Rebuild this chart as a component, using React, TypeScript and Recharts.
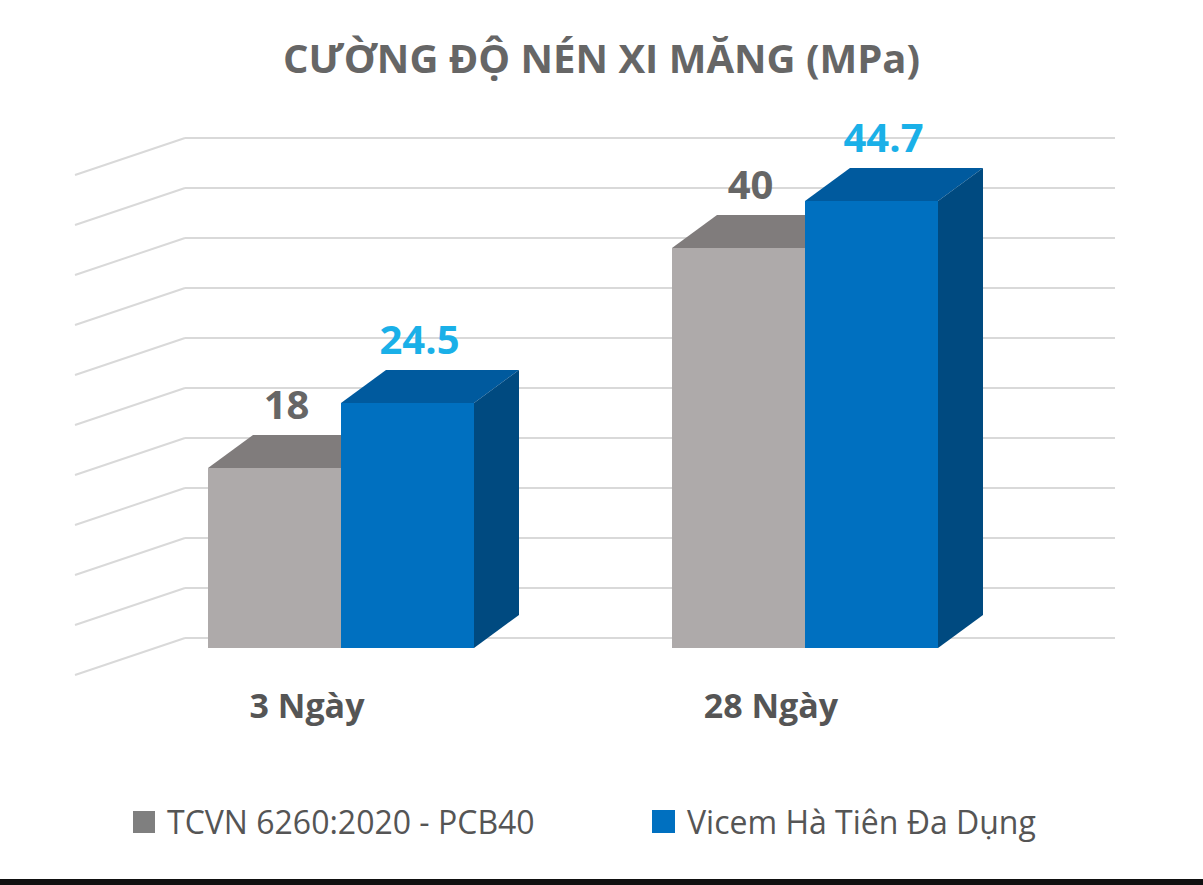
import { BarChart, Bar, XAxis, YAxis, CartesianGrid, LabelList } from 'recharts';

const categories = ['3 Ngày', '28 Ngày'];
const tcvnValues = [18, 40];
const vicemValues = [24.5, 44.7];
const gridTicks = [0, 5, 10, 15, 20, 25, 30, 35, 40, 45, 50];

const data = categories.map((name, i) => ({ name, tcvn: tcvnValues[i], vicem: vicemValues[i] }));

const DX = 45;
const DY = 33;
const FONT = '"Open Sans", "Noto Sans", sans-serif';

const makeShape = (front: string, top: string, side: string) => (props: any) => {
  const { x, y, width: w, height: h } = props;
  return (
    <g>
      <rect x={x} y={y} width={w} height={h} fill={front} />
      <polygon points={`${x},${y} ${x + DX},${y - DY} ${x + w + DX},${y - DY} ${x + w},${y}`} fill={top} />
      <polygon points={`${x + w},${y} ${x + w + DX},${y - DY} ${x + w + DX},${y + h - DY} ${x + w},${y + h}`} fill={side} />
    </g>
  );
};

const makeLabel = (color: string) => (props: any) => {
  const { x, y, width, value } = props;
  return (
    <text x={x + width / 2 + 12} y={y - DY - 16} textAnchor="middle" fill={color}
      fontSize={40} fontWeight="bold" fontFamily={FONT}>{value}</text>
  );
};

const GridLine = (props: any) => {
  const { y1 } = props;
  const y = y1 - 10;
  return (
    <g>
      <line x1={185} y1={y} x2={1115} y2={y} stroke="#d9d9d9" strokeWidth={2} />
      <line x1={185} y1={y} x2={75} y2={y + 37} stroke="#d9d9d9" strokeWidth={2} />
    </g>
  );
};

const Tick = (props: any) => {
  const { x, y, payload } = props;
  return (
    <text x={x - 34} y={y + 62} textAnchor="middle" fill="#555" fontSize={34} fontWeight="bold" fontFamily={FONT}>
      {payload.value}
    </text>
  );
};

export default function App() {
  return (
    <div style={{ position: 'absolute', left: 0, top: 0, width: 1203, height: 885, background: '#fff', fontFamily: FONT }}>
      <div style={{ position: 'absolute', top: 30, width: 1203, textAlign: 'center', fontSize: 40, fontWeight: 'bold', color: '#666' }}>
        CƯỜNG ĐỘ NÉN XI MĂNG (MPa)
      </div>
      <BarChart width={1203} height={885} data={data} barGap={0} barSize={133}
        margin={{ top: 148, right: 166, bottom: 0, left: 109 }} style={{ position: 'absolute', left: 0, top: 0 }}>
        <CartesianGrid vertical={false} horizontal={GridLine as any} horizontalValues={gridTicks} />
        <YAxis hide domain={[0, 50]} ticks={gridTicks} width={0} />
        <XAxis dataKey="name" axisLine={false} tickLine={false} tick={Tick} height={237} />
        <Bar dataKey="tcvn" isAnimationActive={false} shape={makeShape('#aeaaaa', '#807c7c', '#7a7676')}>
          <LabelList dataKey="tcvn" content={makeLabel('#666')} />
        </Bar>
        <Bar dataKey="vicem" isAnimationActive={false} shape={makeShape('#0070c0', '#005a9e', '#004a80')}>
          <LabelList dataKey="vicem" content={makeLabel('#1ab0e8')} />
        </Bar>
      </BarChart>
      <div style={{ position: 'absolute', top: 800, left: 133, display: 'flex', alignItems: 'center', fontSize: 32, color: '#555' }}>
        <span style={{ width: 22, height: 22, background: '#7f7f7f', marginRight: 12 }} />
        <span>TCVN 6260:2020 - PCB40</span>
      </div>
      <div style={{ position: 'absolute', top: 800, left: 652, display: 'flex', alignItems: 'center', fontSize: 32, color: '#555' }}>
        <span style={{ width: 23, height: 23, background: '#0070c0', marginRight: 12 }} />
        <span>Vicem Hà Tiên Đa Dụng</span>
      </div>
      <div style={{ position: 'absolute', bottom: 0, left: 0, width: 1203, height: 6, background: '#111' }} />
    </div>
  );
}
